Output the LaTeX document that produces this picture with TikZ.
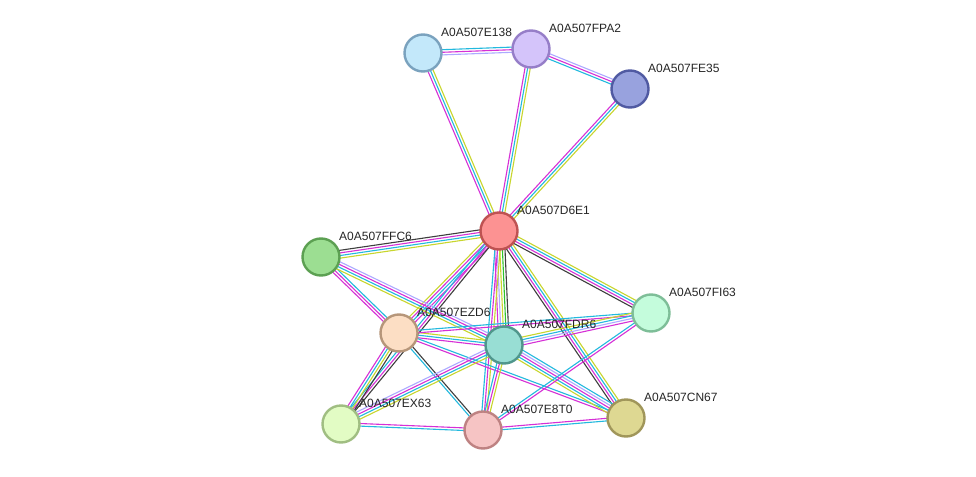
\documentclass[tikz,border=0pt]{standalone}
\usepackage{fontspec}
\setmainfont{Liberation Sans}
\usetikzlibrary{calc,backgrounds}

% evidence colours
\definecolor{txt}{RGB}{200,214,45}
\definecolor{dbs}{RGB}{35,185,222}
\definecolor{exp}{RGB}{214,48,214}
\definecolor{coe}{RGB}{62,62,62}
\definecolor{hom}{RGB}{172,170,255}
\definecolor{nbh}{RGB}{45,195,45}

% one parallel line per evidence colour
\newcommand{\ppiedge}[3]{%
  \foreach \c [count=\k] in {#3} {\xdef\nlines{\k}}%
  \foreach \c [count=\k] in {#3} {%
    \pgfmathsetmacro\off{(\k-(\nlines+1)/2)*2.6}%
    \draw[evidence, \c] ($(#1)!\off pt!90:(#2)$) -- ($(#2)!\off pt!-90:(#1)$);
  }%
}

\begin{document}
\begin{tikzpicture}[x=1pt, y=-1pt,
  prot/.style={circle, minimum size=37pt, inner sep=0pt, line width=2.4pt},
  protlabel/.style={anchor=west, inner sep=0pt, font=\fontsize{12}{14}\selectfont, text=black!85},
  evidence/.style={line width=1.1pt}]

\useasboundingbox (0,0) rectangle (976,476);

% proteins
\foreach \name/\x/\y/\fc/\bc in {
    E138/423/53/{195,232,250}/{122,162,190},
    FPA2/531/49/{212,196,250}/{150,126,200},
    FE35/630/89/{152,162,222}/{80,90,162},
    D6E1/499/231/{252,146,146}/{190,82,82},
    FFC6/321/257/{156,222,146}/{92,160,82},
    FI63/651/313/{196,252,220}/{126,190,152},
    EZD6/399/333/{252,222,196}/{182,150,122},
    FDR6/504/345/{152,222,212}/{80,150,140},
    EX63/341/424/{226,252,196}/{160,190,130},
    E8T0/483/430/{246,196,196}/{190,130,130},
    CN67/626/418/{222,216,146}/{160,150,90}} {
  \definecolor{fill\name}{RGB}{\fc}
  \definecolor{border\name}{RGB}{\bc}
  \node[prot, fill=fill\name, draw=border\name] (\name) at (\x,\y) {};
  \node[protlabel] (\name-l) at ($(\name)+(18,-21)$) {A0A507\name};
}

\begin{pgfonlayer}{background}
\fill[white] (0,0) rectangle (976,476);
\ppiedge{E138}{FPA2}{hom,exp,dbs}
\ppiedge{FPA2}{FE35}{dbs,exp,hom}
\ppiedge{E138}{D6E1}{exp,dbs,txt}
\ppiedge{FPA2}{D6E1}{exp,dbs,txt}
\ppiedge{FE35}{D6E1}{exp,dbs,txt}
\ppiedge{FFC6}{D6E1}{txt,dbs,exp,coe}
\ppiedge{D6E1}{FI63}{coe,exp,dbs,txt}
\ppiedge{D6E1}{EZD6}{txt,exp,dbs,exp}
\ppiedge{D6E1}{EX63}{dbs,exp,coe}
\ppiedge{D6E1}{FDR6}{exp,hom,txt,nbh,coe}
\ppiedge{D6E1}{E8T0}{dbs,exp,txt}
\ppiedge{D6E1}{CN67}{coe,exp,dbs,txt}
\ppiedge{FFC6}{EZD6}{exp,exp,dbs}
\ppiedge{FFC6}{FDR6}{txt,dbs,exp,hom}
\ppiedge{EZD6}{FDR6}{exp,dbs,txt}
\ppiedge{EZD6}{FI63}{exp,dbs}
\ppiedge{EZD6}{EX63}{exp,dbs,txt,coe}
\ppiedge{EZD6}{E8T0}{dbs,coe}
\ppiedge{EZD6}{CN67}{exp,dbs}
\ppiedge{FDR6}{FI63}{exp,hom,dbs,txt}
\ppiedge{FDR6}{EX63}{hom,exp,dbs,txt}
\ppiedge{FDR6}{E8T0}{dbs,exp,txt}
\ppiedge{FDR6}{CN67}{txt,dbs,exp,hom,dbs}
\ppiedge{EX63}{E8T0}{dbs,exp}
\ppiedge{E8T0}{CN67}{dbs,exp}
\ppiedge{E8T0}{FI63}{exp,dbs}
\end{pgfonlayer}
\end{tikzpicture}
\end{document}
